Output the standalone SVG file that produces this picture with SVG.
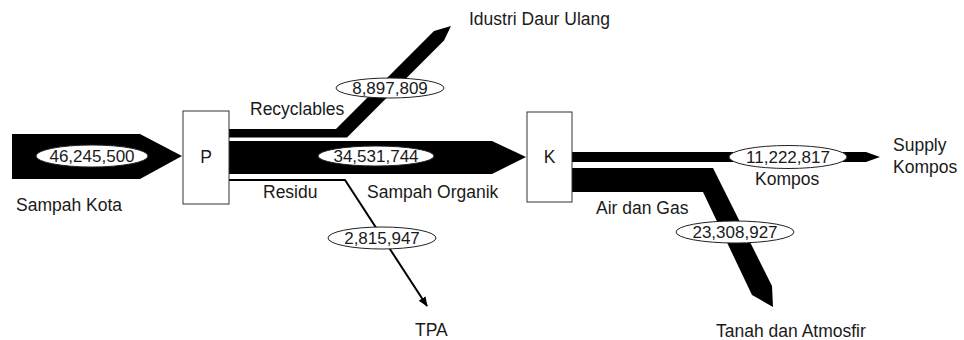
<svg xmlns="http://www.w3.org/2000/svg" width="964" height="340" viewBox="0 0 964 340">
<defs>
<style>
text{font-family:"Liberation Sans",Arial,sans-serif;font-size:17.5px;fill:#1a1a1a}
.c{text-anchor:middle}
.n{font-size:17px}
.band{fill:#000}
.box{fill:#fff;stroke:#333;stroke-width:1}
.lbl{fill:#fff;stroke:#222;stroke-width:1}
</style>
<marker id="ah" markerWidth="10" markerHeight="10" refX="9" refY="5" orient="auto" markerUnits="userSpaceOnUse">
<path d="M0,1 L10,5 L0,9 Z" fill="#000"/>
</marker>
</defs>
<g id="connectors">
<polygon class="band" points="12,134 140,134 182,156 140,179 12,179"/>
<polygon class="band" points="229,129 336,129 434,31 451,26 444,40.5 347,137.5 229,137.5"/>
<polygon class="band" points="229,141 492,141 526,157 492,174 229,174"/>
<path d="M229,180 L345,180 L427,306" fill="none" stroke="#000" stroke-width="2" marker-end="url(#ah)"/>
<polygon class="band" points="572,152 866,152 880,157 866,162 572,162"/>
<polygon class="band" points="572,168 713,168 772,286 773,307 752,295 703,192 572,192"/>
</g>
<g id="n-input">
<ellipse class="lbl" cx="92" cy="156" rx="56" ry="11" stroke="none"/>
<text class="c n" x="92" y="162">46,245,500</text>
<text x="16" y="211">Sampah Kota</text>
</g>
<g id="n-P">
<rect class="box" x="183" y="111" width="46" height="93"/>
<text class="c" x="206" y="163">P</text>
</g>
<g id="n-recyclables">
<ellipse class="lbl" cx="390" cy="88" rx="54" ry="10"/>
<text class="c n" x="390" y="94">8,897,809</text>
<text x="250" y="115">Recyclables</text>
<text x="469" y="25">Idustri Daur Ulang</text>
</g>
<g id="n-organik">
<ellipse class="lbl" cx="376" cy="156" rx="58" ry="10" stroke="none"/>
<text class="c n" x="376" y="162">34,531,744</text>
<text x="367" y="198">Sampah Organik</text>
</g>
<g id="n-residu">
<text x="263" y="198">Residu</text>
<ellipse class="lbl" cx="382" cy="238" rx="54" ry="11"/>
<text class="c n" x="382" y="244">2,815,947</text>
<text x="415" y="336">TPA</text>
</g>
<g id="n-K">
<rect class="box" x="527" y="112" width="45" height="90"/>
<text class="c" x="549.5" y="163">K</text>
</g>
<g id="n-kompos">
<ellipse class="lbl" cx="788" cy="157" rx="59" ry="11.5"/>
<text class="c n" x="788" y="163">11,222,817</text>
<text x="755" y="185">Kompos</text>
<text x="893" y="151">Supply</text>
<text x="893" y="173">Kompos</text>
</g>
<g id="n-air">
<text x="596" y="214">Air dan Gas</text>
<ellipse class="lbl" cx="735" cy="232" rx="59" ry="11"/>
<text class="c n" x="735" y="238">23,308,927</text>
<text x="716" y="337">Tanah dan Atmosfir</text>
</g>
</svg>
